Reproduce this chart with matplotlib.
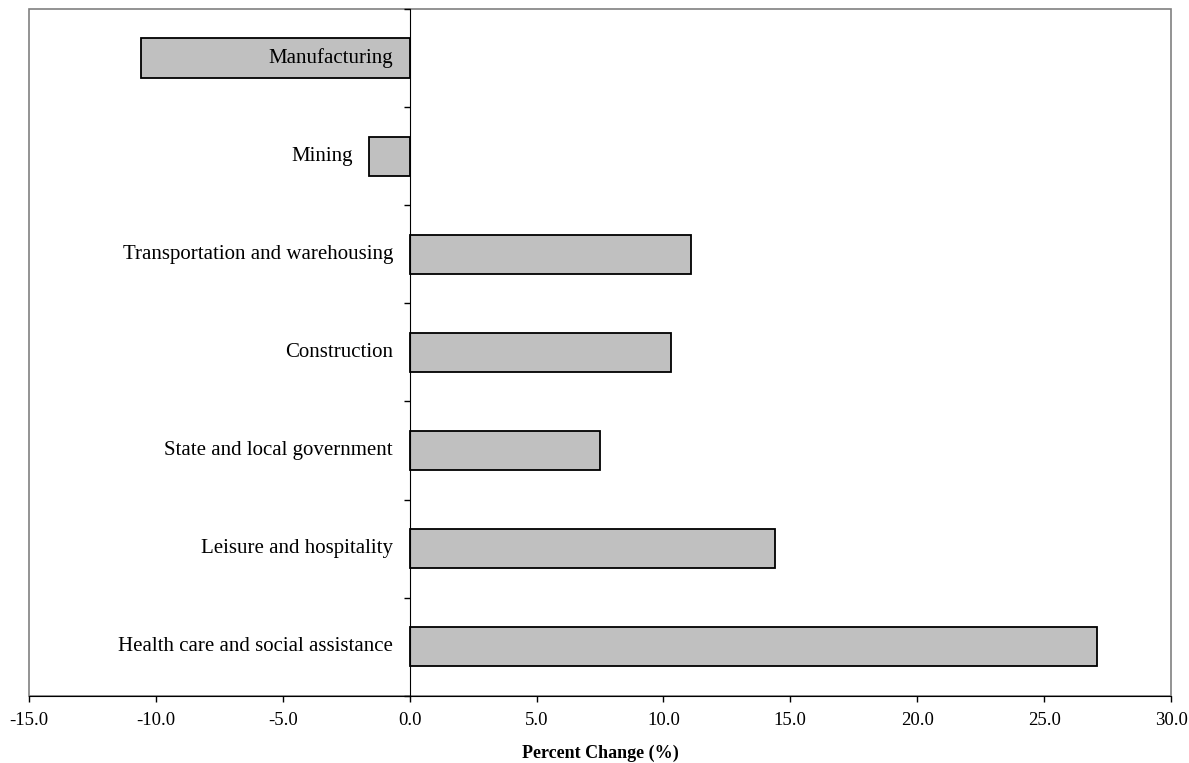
import numpy as np
import matplotlib
matplotlib.use("Agg")
import matplotlib.pyplot as plt
from matplotlib.patches import Rectangle

industries = ["Health care and social assistance", "Leisure and hospitality",
              "State and local government", "Construction",
              "Transportation and warehousing", "Mining", "Manufacturing"]
pct_change = [27.1, 14.4, 7.5, 10.3, 11.1, -1.6, -10.6]
xticks = [-15, -10, -5, 0, 5, 10, 15, 20, 25, 30]

plt.rcParams['font.family'] = ['Liberation Serif', 'DejaVu Serif']

fig = plt.figure(figsize=(11.89, 7.63), dpi=100)
ax = fig.add_axes([29/1189, 1 - 695.7/763, (1171 - 29)/1189, (695.7 - 9)/763])

y = np.arange(len(industries))
ax.barh(y, pct_change, height=0.4, color='#c0c0c0', edgecolor='black', linewidth=1.3, zorder=3)

ax.set_xlim(-15, 30)
ax.set_ylim(-0.5, len(industries) - 0.5)

# frame of the plot area
ax.add_patch(Rectangle((0, 0), 1, 1, transform=ax.transAxes, fill=False,
                       edgecolor='#808080', linewidth=1.2, clip_on=False, zorder=1))
for s in ['top', 'right']:
    ax.spines[s].set_visible(False)
ax.spines['bottom'].set_color('black')
ax.spines['bottom'].set_zorder(4)
ax.spines['left'].set_position(('data', 0))
ax.spines['left'].set_color('black')
ax.spines['left'].set_zorder(4)

ax.set_yticks(np.arange(-0.5, len(industries), 1.0))
ax.set_yticklabels([])
ax.tick_params(axis='y', direction='out', length=4, width=1, color='black')

ax.set_xticks(xticks)
ax.set_xticklabels(["%.1f" % t for t in xticks], fontsize=13.5)
ax.tick_params(axis='x', direction='out', length=4, width=1, pad=8)

# category labels sit left of the axis, or left of a short negative bar
for yi, name, v in zip(y, industries, pct_change):
    anchor = 0 if v < -8 else min(v, 0)
    ax.annotate(name, xy=(anchor, yi), xytext=(-12, 0), textcoords='offset points',
                ha='right', va='center', fontsize=15, zorder=5)

ax.set_xlabel("Percent Change (%)", fontsize=13, fontweight='bold', labelpad=11)

fig.savefig("out.png", dpi=100)
